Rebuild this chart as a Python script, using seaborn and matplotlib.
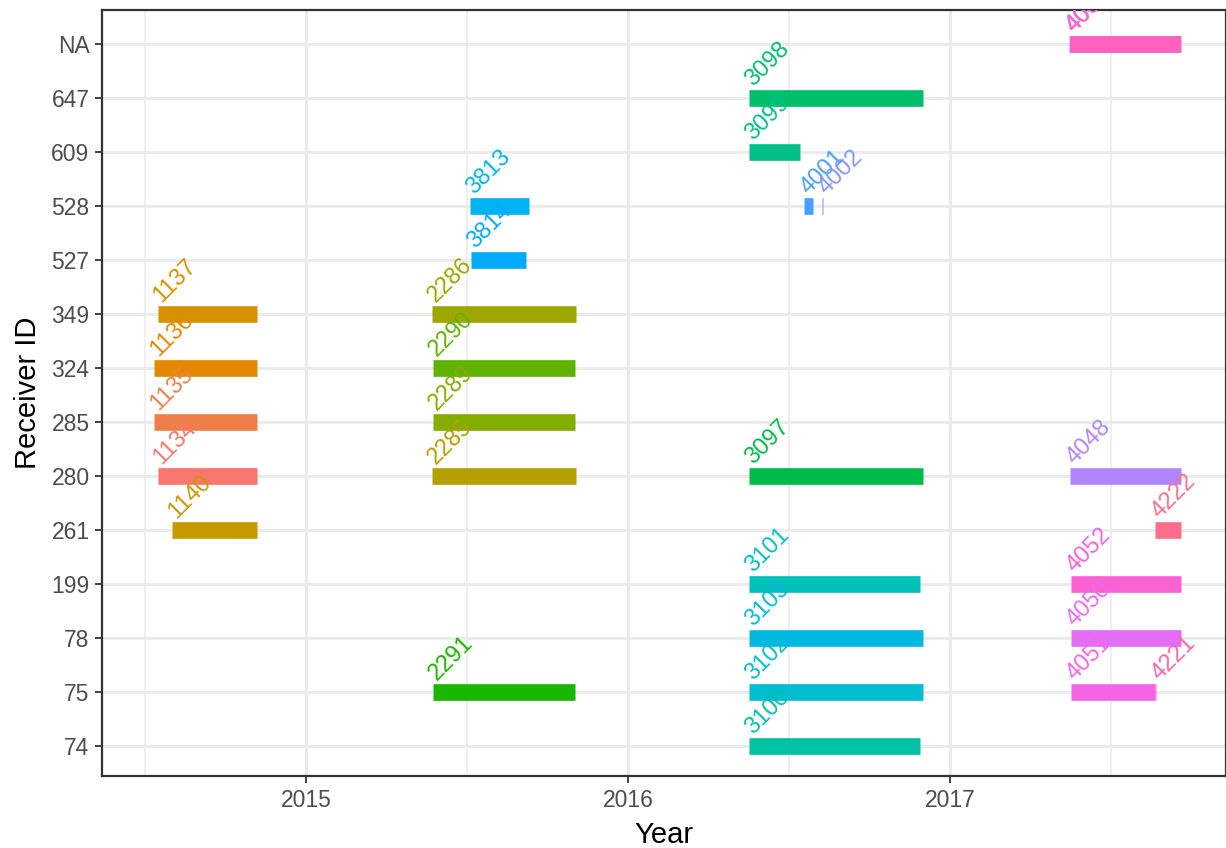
import numpy as np
import pandas as pd
import matplotlib
matplotlib.use("Agg")
import matplotlib.pyplot as plt
import seaborn as sns

# deployment data (two deployments overlap on the NA row)
deploy_ids = ["1134", "1135", "1136", "1137", "1140",
              "2285", "2286", "2289", "2290", "2291",
              "3097", "3098", "3099", "3100", "3101", "3102", "3103",
              "3813", "3814", "4001", "4002",
              "4048", "4049", "4050", "4051", "4052", "4053", "4221", "4222"]
receivers = ["280", "285", "324", "349", "261",
             "280", "349", "285", "324", "75",
             "280", "647", "609", "74", "199", "75", "78",
             "528", "527", "528", "528",
             "280", "NA", "78", "75", "199", "NA", "75", "261"]
start_year = [2014.540, 2014.528, 2014.528, 2014.540, 2014.584,
              2015.391, 2015.391, 2015.394, 2015.394, 2015.394,
              2016.376, 2016.376, 2016.376, 2016.376, 2016.376, 2016.376, 2016.376,
              2015.509, 2015.512, 2016.547, 2016.603,
              2017.373, 2017.370, 2017.376, 2017.376, 2017.376, 2017.373, 2017.637, 2017.637]
end_year = [2014.848, 2014.848, 2014.848, 2014.848, 2014.848,
            2015.839, 2015.839, 2015.835, 2015.835, 2015.835,
            2016.916, 2016.916, 2016.534, 2016.907, 2016.907, 2016.916, 2016.916,
            2015.693, 2015.683, 2016.575, 2016.607,
            2017.717, 2017.715, 2017.717, 2017.637, 2017.717, 2017.717, 2017.639, 2017.717]
receiver_levels = ["74", "75", "78", "199", "261", "280", "285",
                   "324", "349", "527", "528", "609", "647", "NA"]


def hue_pal(n, l=65, c=100):
    # ggplot2 style hcl hue palette
    hues = np.linspace(15, 375, n + 1)[:-1]
    xn, yn, zn = 95.047, 100.0, 108.883
    un = 4 * xn / (xn + 15 * yn + 3 * zn)
    vn = 9 * yn / (xn + 15 * yn + 3 * zn)
    m = np.array([[3.2404542, -1.5371385, -0.4985314],
                  [-0.9692660, 1.8760108, 0.0415560],
                  [0.0556434, -0.2040259, 1.0572252]])
    cols = []
    for h in hues:
        u = c * np.cos(np.radians(h))
        v = c * np.sin(np.radians(h))
        Y = yn * ((l + 16) / 116) ** 3
        up = u / (13 * l) + un
        vp = v / (13 * l) + vn
        X = Y * 9 * up / (4 * vp)
        Z = Y * (12 - 3 * up - 20 * vp) / (4 * vp)
        rgb = m @ (np.array([X, Y, Z]) / 100)
        rgb = np.where(rgb <= 0.0031308, 12.92 * rgb,
                       1.055 * np.clip(rgb, 0, None) ** (1 / 2.4) - 0.055)
        cols.append(tuple(np.clip(rgb, 0, 1)))
    return cols


sns.set_style("whitegrid")
plt.rcParams["font.family"] = ["Liberation Sans", "DejaVu Sans"]
plt.rcParams["lines.solid_capstyle"] = "butt"

palette = dict(zip(deploy_ids, hue_pal(len(deploy_ids))))
ypos = {r: i for i, r in enumerate(receiver_levels)}

df = pd.DataFrame({"id": deploy_ids, "receiver": receivers,
                   "start": start_year, "end": end_year})
df["pos"] = df["receiver"].map(ypos)
long = df.melt(id_vars=["id", "pos"], value_vars=["start", "end"],
               value_name="year")

fig = plt.figure(figsize=(12.26, 8.48), dpi=100)
ax = fig.add_axes([0.0832, 0.0849, 0.9168, 0.9033])

sns.lineplot(data=long, x="year", y="pos", hue="id", units="id",
             estimator=None, palette=palette, linewidth=12, legend=False,
             sort=False, ax=ax)

# rotated id labels just above the start of each segment
for _, row in df.iterrows():
    ax.text(row["start"] + 0.012, row["pos"] + 0.2, row["id"], rotation=45,
            rotation_mode="anchor", ha="left", va="baseline", fontsize=17,
            color=palette[row["id"]], clip_on=True)

ax.set_xlim(2014.3665, 2017.857)
ax.set_ylim(-0.56, 13.63)
ax.set_yticks(range(len(receiver_levels)))
ax.set_yticklabels(receiver_levels)
ax.set_xticks([2015, 2016, 2017])
ax.set_xticklabels(["2015", "2016", "2017"])
ax.set_xticks([2014.5, 2015.5, 2016.5, 2017.5], minor=True)

ax.grid(which="major", color="#EBEBEB", linewidth=2.2)
ax.grid(which="minor", axis="x", color="#EBEBEB", linewidth=1.1)
ax.set_axisbelow(True)
for s in ax.spines.values():
    s.set_color("#333333")
    s.set_linewidth(1.6)
    s.set_visible(True)
ax.tick_params(which="major", length=5, width=1.3, color="#333333",
               labelsize=16.5, labelcolor="#4D4D4D", pad=4,
               bottom=True, left=True)
ax.tick_params(which="minor", length=0)

ax.set_xlabel("Year", fontsize=21, color="black", labelpad=7)
ax.set_ylabel("Receiver ID", fontsize=21, color="black", labelpad=7)

fig.savefig("out.png", dpi=100)
